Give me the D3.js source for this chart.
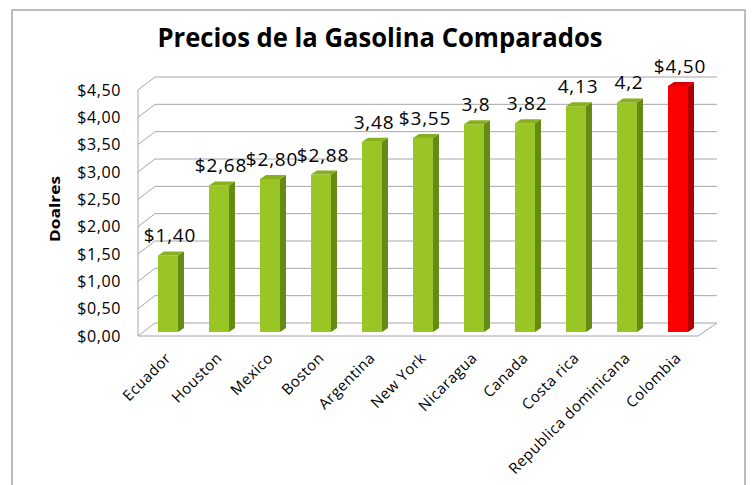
<!DOCTYPE html>
<meta charset="utf-8">
<script src="https://d3js.org/d3.v7.min.js"></script>
<style>
body { margin: 0; background: #fff; }
text { font-family: "Century Gothic", "Open Sans", sans-serif; fill: #000; }
</style>
<div id="chart"></div>
<script>
// data
var countries = ["Ecuador", "Houston", "Mexico", "Boston", "Argentina", "New York",
  "Nicaragua", "Canada", "Costa rica", "Republica dominicana", "Colombia"];
var prices = [1.40, 2.68, 2.80, 2.88, 3.48, 3.55, 3.8, 3.82, 4.13, 4.2, 4.50];
var priceLabels = ["$1,40", "$2,68", "$2,80", "$2,88", "3,48", "$3,55", "3,8", "3,82", "4,13", "4,2", "$4,50"];
var yTicks = [0, 0.5, 1, 1.5, 2, 2.5, 3, 3.5, 4, 4.5];

var width = 756, height = 485;

var svg = d3.select("#chart").append("svg")
  .attr("width", width)
  .attr("height", height);

// outer frame
svg.append("rect")
  .attr("x", 12).attr("y", 10)
  .attr("width", 733).attr("height", 500)
  .attr("fill", "none")
  .attr("stroke", "#a6a6a6")
  .attr("stroke-width", 1.5);

// title
svg.append("text")
  .attr("x", 380).attr("y", 47)
  .attr("text-anchor", "middle")
  .attr("font-weight", "bold")
  .attr("font-size", 27)
  .attr("textLength", 445)
  .attr("lengthAdjust", "spacingAndGlyphs")
  .text("Precios de la Gasolina Comparados");

// scales (front plane of the 3d box)
var y = d3.scaleLinear().domain([0, 4.5]).range([336, 90]);
var x = d3.scaleBand().domain(countries).range([146, 707]).padding(0);

var depthX = 17, depthY = 13;   // box depth
var barDX = 6, barDY = 4;       // bar depth
var barW = 20;

var grid = svg.append("g")
  .attr("fill", "none")
  .attr("stroke", "#a6a6a6")
  .attr("stroke-width", 1);

// left wall front edge
grid.append("line")
  .attr("x1", 138).attr("x2", 138)
  .attr("y1", y(4.5)).attr("y2", y(0));

// gridlines: diagonal on side wall + horizontal on back wall
yTicks.forEach(function(t) {
  grid.append("polyline")
    .attr("points", [[138, y(t)], [138 + depthX, y(t) - depthY], [717, y(t) - depthY]].join(" "));
});

// floor front edge and right edge
grid.append("polyline")
  .attr("points", [[138, y(0)], [698, y(0)], [717, y(0) - depthY]].join(" "));

// y tick labels
svg.append("g").selectAll("text")
  .data(yTicks)
  .join("text")
  .attr("x", 121)
  .attr("y", function(d) { return y(d); })
  .attr("dy", "0.36em")
  .attr("text-anchor", "end")
  .attr("font-size", 16)
  .attr("letter-spacing", 0.6)
  .text(function(d) { return "$" + d.toFixed(2).replace(".", ","); });

// y axis title
svg.append("text")
  .attr("transform", "translate(60,209) rotate(-90)")
  .attr("text-anchor", "middle")
  .attr("font-weight", "bold")
  .attr("font-size", 14)
  .attr("textLength", 66)
  .attr("lengthAdjust", "spacingAndGlyphs")
  .text("Doalres");

// bars
var yB = function(v) { return y(v) - barDY; };

var bars = svg.append("g").selectAll("g")
  .data(countries)
  .join("g");

function colors(i) {
  return countries[i] == "Colombia"
    ? { front: "#ff0000", side: "#b00000", top: "#d80000" }
    : { front: "#99c624", side: "#658a16", top: "#86b01c" };
}

bars.each(function(c, i) {
  var g = d3.select(this);
  var bx = x(c) + 12;
  var top = yB(prices[i]), base = yB(0);
  var col = colors(i);

  g.append("rect")
    .attr("x", bx).attr("y", top)
    .attr("width", barW).attr("height", base - top)
    .attr("fill", col.front);

  g.append("polygon")
    .attr("points", [[bx + barW, top], [bx + barW + barDX, top - barDY],
      [bx + barW + barDX, base - barDY], [bx + barW, base]].join(" "))
    .attr("fill", col.side);

  g.append("polygon")
    .attr("points", [[bx, top], [bx + barDX, top - barDY],
      [bx + barW + barDX, top - barDY], [bx + barW, top]].join(" "))
    .attr("fill", col.top);
});

// value labels
svg.append("g").selectAll("text")
  .data(countries)
  .join("text")
  .attr("x", function(c) { return x(c) + 12 + barW / 2 + 2; })
  .attr("y", function(c, i) { return yB(prices[i]) - 13; })
  .attr("text-anchor", "middle")
  .attr("font-size", 19)
  .attr("letter-spacing", 0.8)
  .text(function(c, i) { return priceLabels[i]; });

// category labels
svg.append("g").selectAll("text")
  .data(countries)
  .join("text")
  .attr("transform", function(c) {
    return "translate(" + (x(c) + 18) + ",351) rotate(-45)";
  })
  .attr("text-anchor", "end")
  .attr("dy", "0.75em")
  .attr("font-size", 15)
  .attr("letter-spacing", 0.5)
  .text(function(c) { return c; });
</script>
